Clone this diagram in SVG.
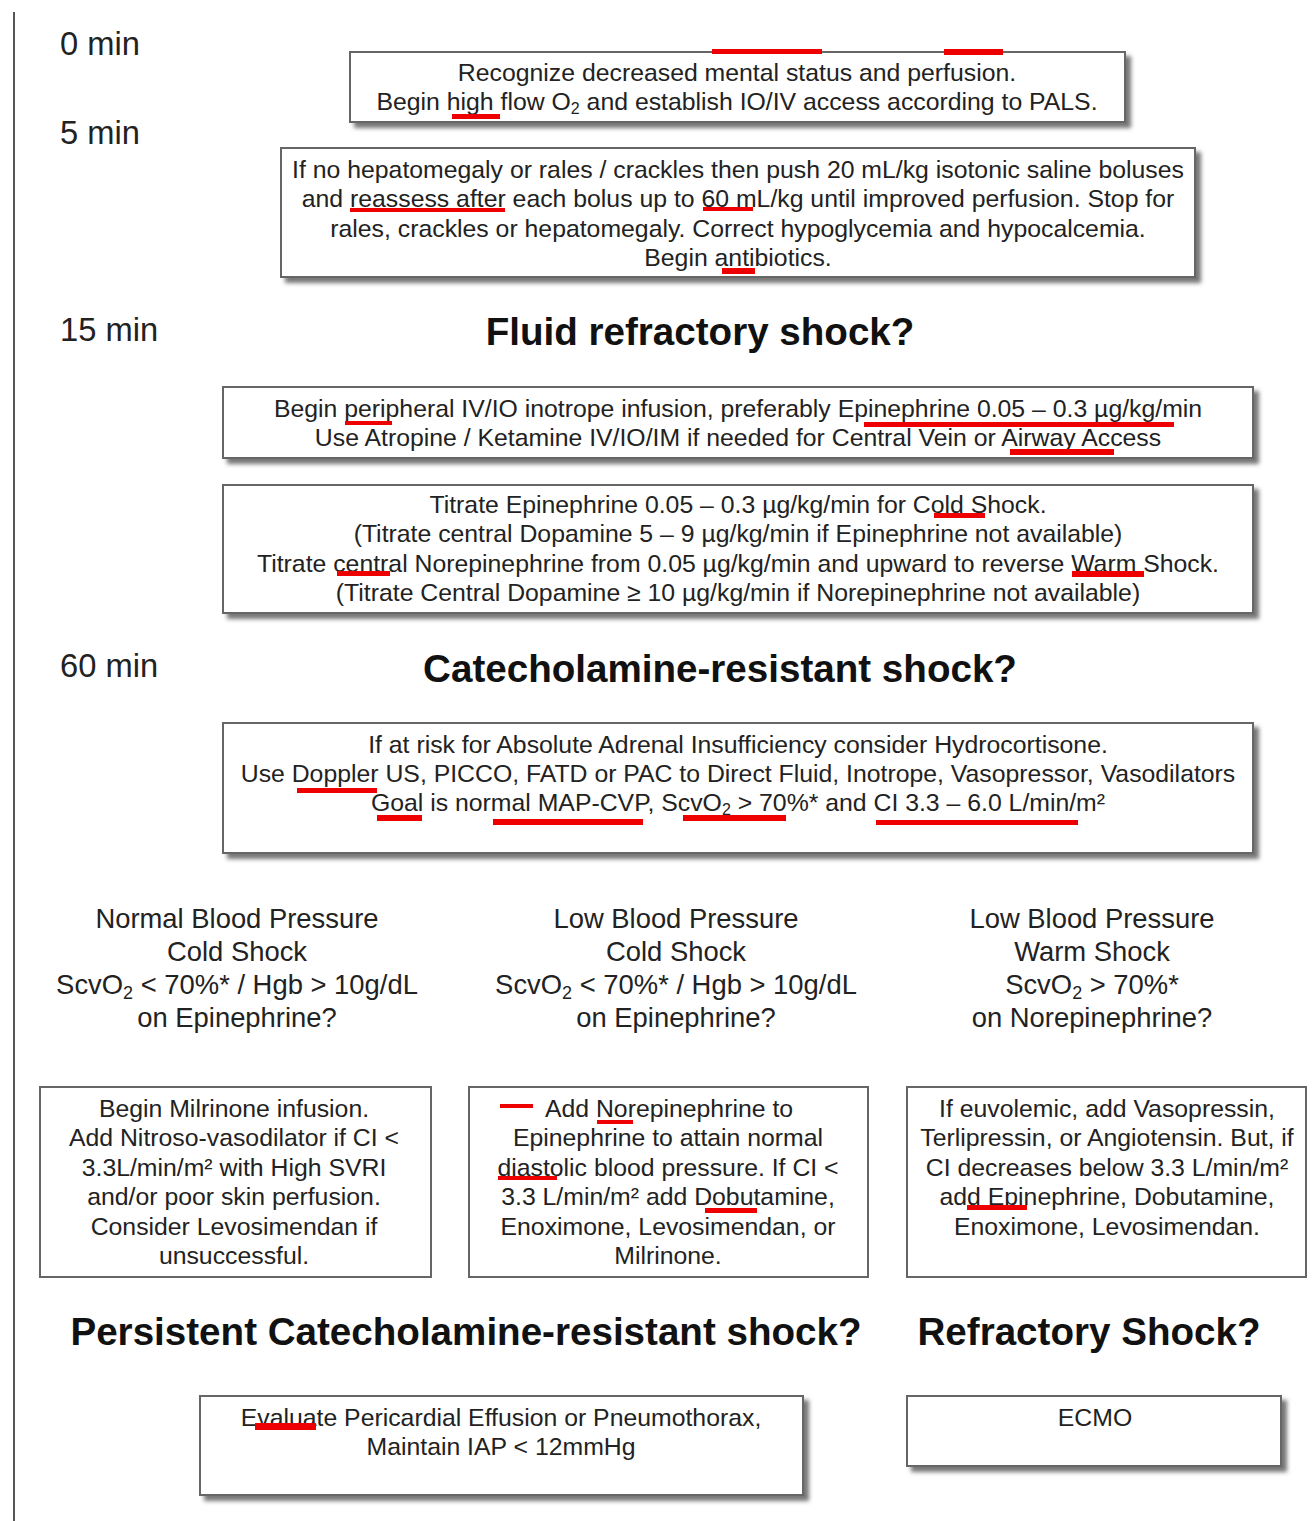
<svg xmlns="http://www.w3.org/2000/svg" width="1316" height="1521" viewBox="0 0 1316 1521">
  <defs>
    <filter id="shadow" x="-5%" y="-10%" width="115%" height="140%">
      <feDropShadow dx="5" dy="5" stdDeviation="2" flood-color="#555" flood-opacity="0.8"/>
    </filter>
    <style>
      text { font-family: "Liberation Sans", Arial, sans-serif; fill: #222; }
      .time { font-size: 32.7px; }
      .body { font-size: 24.8px; text-anchor: middle; }
      .cond { font-size: 27.4px; text-anchor: middle; }
      .head { font-size: 38.6px; font-weight: bold; text-anchor: middle; fill: #111; }
      .box { fill: #fff; stroke: #666; stroke-width: 2; }
      .boxs { fill: #fff; stroke: #666; stroke-width: 2; filter: url(#shadow); }
      .mark { fill: #ee0000; }
      .sub { font-size: 16px; }
      .sub2 { font-size: 18px; }
    </style>
  </defs>

  <!-- timeline axis -->
  <g id="timeline">
    <line x1="14" y1="12" x2="14" y2="1521" stroke="#555" stroke-width="2"/>
    <text class="time" x="60" y="55">0 min</text>
    <text class="time" x="60" y="144">5 min</text>
    <text class="time" x="60" y="341">15 min</text>
    <text class="time" x="60" y="677">60 min</text>
  </g>

  <!-- step boxes -->
  <g id="recognize">
    <rect class="boxs" x="350" y="52" width="775" height="70"/>
    <text class="body" x="737" y="81">Recognize decreased mental status and perfusion.</text>
    <text class="body" x="737" y="110">Begin high flow O<tspan class="sub" dy="4">2</tspan><tspan dy="-4"> and establish IO/IV access according to PALS.</tspan></text>
  </g>

  <g id="fluids">
    <rect class="boxs" x="281" y="148" width="914" height="129"/>
    <text class="body" x="738" y="178">If no hepatomegaly or rales / crackles then push 20 mL/kg isotonic saline boluses</text>
    <text class="body" x="738" y="207">and reassess after each bolus up to 60 mL/kg until improved perfusion. Stop for</text>
    <text class="body" x="738" y="237">rales, crackles or hepatomegaly. Correct hypoglycemia and hypocalcemia.</text>
    <text class="body" x="738" y="266">Begin antibiotics.</text>
  </g>

  <g id="fluid-refractory">
    <text class="head" x="700" y="345">Fluid refractory shock?</text>
  </g>

  <g id="inotrope">
    <rect class="boxs" x="223" y="387" width="1030" height="71"/>
    <text class="body" x="738" y="417">Begin peripheral IV/IO inotrope infusion, preferably Epinephrine 0.05 – 0.3 µg/kg/min</text>
    <text class="body" x="738" y="446">Use Atropine / Ketamine IV/IO/IM if needed for Central Vein or Airway Access</text>
  </g>

  <g id="titrate">
    <rect class="boxs" x="223" y="485" width="1030" height="128"/>
    <text class="body" x="738" y="513">Titrate Epinephrine 0.05 – 0.3 µg/kg/min for Cold Shock.</text>
    <text class="body" x="738" y="542">(Titrate central Dopamine 5 – 9 µg/kg/min if Epinephrine not available)</text>
    <text class="body" x="738" y="572">Titrate central Norepinephrine from 0.05 µg/kg/min and upward to reverse Warm Shock.</text>
    <text class="body" x="738" y="601">(Titrate Central Dopamine ≥ 10 µg/kg/min if Norepinephrine not available)</text>
  </g>

  <g id="catecholamine-resistant">
    <text class="head" x="720" y="682">Catecholamine-resistant shock?</text>
  </g>

  <g id="monitoring">
    <rect class="boxs" x="223" y="723" width="1030" height="130"/>
    <text class="body" x="738" y="753">If at risk for Absolute Adrenal Insufficiency consider Hydrocortisone.</text>
    <text class="body" x="738" y="782">Use Doppler US, PICCO, FATD or PAC to Direct Fluid, Inotrope, Vasopressor, Vasodilators</text>
    <text class="body" x="738" y="811">Goal is normal MAP-CVP, ScvO<tspan class="sub" dy="4">2</tspan><tspan dy="-4"> &gt; 70%* and CI 3.3 – 6.0 L/min/m²</tspan></text>
  </g>

  <!-- shock branches -->
  <g id="cond-normal-cold">
    <text class="cond" x="237" y="928">Normal Blood Pressure</text>
    <text class="cond" x="237" y="961">Cold Shock</text>
    <text class="cond" x="237" y="994">ScvO<tspan class="sub2" dy="5">2</tspan><tspan dy="-5"> &lt; 70%* / Hgb &gt; 10g/dL</tspan></text>
    <text class="cond" x="237" y="1027">on Epinephrine?</text>
  </g>
  <g id="cond-low-cold">
    <text class="cond" x="676" y="928">Low Blood Pressure</text>
    <text class="cond" x="676" y="961">Cold Shock</text>
    <text class="cond" x="676" y="994">ScvO<tspan class="sub2" dy="5">2</tspan><tspan dy="-5"> &lt; 70%* / Hgb &gt; 10g/dL</tspan></text>
    <text class="cond" x="676" y="1027">on Epinephrine?</text>
  </g>
  <g id="cond-low-warm">
    <text class="cond" x="1092" y="928">Low Blood Pressure</text>
    <text class="cond" x="1092" y="961">Warm Shock</text>
    <text class="cond" x="1092" y="994">ScvO<tspan class="sub2" dy="5">2</tspan><tspan dy="-5"> &gt; 70%*</tspan></text>
    <text class="cond" x="1092" y="1027">on Norepinephrine?</text>
  </g>

  <g id="milrinone">
    <rect class="box" x="40" y="1087" width="391" height="190"/>
    <text class="body" x="234" y="1117">Begin Milrinone infusion.</text>
    <text class="body" x="234" y="1146">Add Nitroso-vasodilator if CI &lt;</text>
    <text class="body" x="234" y="1176">3.3L/min/m² with High SVRI</text>
    <text class="body" x="234" y="1205">and/or poor skin perfusion.</text>
    <text class="body" x="234" y="1235">Consider Levosimendan if</text>
    <text class="body" x="234" y="1264">unsuccessful.</text>
  </g>

  <g id="norepinephrine">
    <rect class="box" x="469" y="1087" width="399" height="190"/>
    <text class="body" x="669" y="1117">Add Norepinephrine to</text>
    <text class="body" x="668" y="1146">Epinephrine to attain normal</text>
    <text class="body" x="668" y="1176">diastolic blood pressure. If CI &lt;</text>
    <text class="body" x="668" y="1205">3.3 L/min/m² add Dobutamine,</text>
    <text class="body" x="668" y="1235">Enoximone, Levosimendan, or</text>
    <text class="body" x="668" y="1264">Milrinone.</text>
  </g>

  <g id="vasopressin">
    <rect class="box" x="907" y="1087" width="399" height="190"/>
    <text class="body" x="1107" y="1117">If euvolemic, add Vasopressin,</text>
    <text class="body" x="1107" y="1146">Terlipressin, or Angiotensin. But, if</text>
    <text class="body" x="1107" y="1176">CI decreases below 3.3 L/min/m²</text>
    <text class="body" x="1107" y="1205">add Epinephrine, Dobutamine,</text>
    <text class="body" x="1107" y="1235">Enoximone, Levosimendan.</text>
  </g>

  <g id="persistent">
    <text class="head" x="466" y="1345">Persistent Catecholamine-resistant shock?</text>
  </g>
  <g id="refractory">
    <text class="head" x="1089" y="1345">Refractory Shock?</text>
  </g>

  <g id="pericardial">
    <rect class="boxs" x="200" y="1396" width="603" height="99"/>
    <text class="body" x="501" y="1426">Evaluate Pericardial Effusion or Pneumothorax,</text>
    <text class="body" x="501" y="1455">Maintain IAP &lt; 12mmHg</text>
  </g>

  <g id="ecmo">
    <rect class="boxs" x="907" y="1396" width="374" height="70"/>
    <text class="body" x="1095" y="1426">ECMO</text>
  </g>

  <!-- spell-check marks -->
  <g id="marks">
    <rect class="mark" x="712" y="49" width="110" height="5"/>
    <rect class="mark" x="944" y="49" width="59" height="6"/>
    <rect class="mark" x="452" y="114" width="48" height="5"/>
    <rect class="mark" x="350" y="208" width="155" height="4"/>
    <rect class="mark" x="703" y="207" width="50" height="4"/>
    <rect class="mark" x="722" y="268" width="33" height="6"/>
    <rect class="mark" x="345" y="421" width="47" height="4"/>
    <rect class="mark" x="864" y="422" width="310" height="5"/>
    <rect class="mark" x="1010" y="449" width="104" height="6"/>
    <rect class="mark" x="934" y="513" width="51" height="5"/>
    <rect class="mark" x="337" y="571" width="53" height="5"/>
    <rect class="mark" x="1072" y="571" width="72" height="6"/>
    <rect class="mark" x="297" y="788" width="80" height="5"/>
    <rect class="mark" x="377" y="815" width="45" height="6"/>
    <rect class="mark" x="493" y="819" width="150" height="6"/>
    <rect class="mark" x="683" y="815" width="103" height="6"/>
    <rect class="mark" x="876" y="820" width="202" height="5"/>
    <rect class="mark" x="500" y="1104" width="33" height="4"/>
    <rect class="mark" x="597" y="1120" width="36" height="4"/>
    <rect class="mark" x="498" y="1176" width="59" height="4"/>
    <rect class="mark" x="705" y="1208" width="52" height="5"/>
    <rect class="mark" x="967" y="1205" width="60" height="5"/>
    <rect class="mark" x="255" y="1423" width="61" height="7"/>
  </g>
</svg>
